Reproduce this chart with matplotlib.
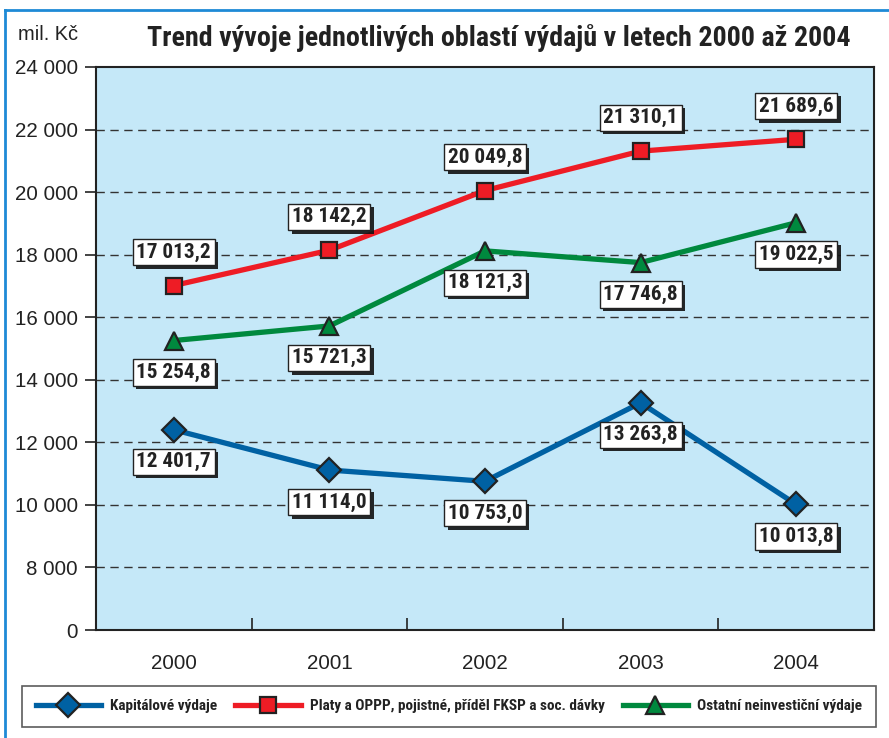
import matplotlib
matplotlib.use("Agg")
import matplotlib.pyplot as plt
import matplotlib.patheffects as pe
from matplotlib.lines import Line2D

years = ["2000", "2001", "2002", "2003", "2004"]
kapitalove = [12401.7, 11114.0, 10753.0, 13263.8, 10013.8]
platy = [17013.2, 18142.2, 20049.8, 21310.1, 21689.6]
ostatni = [15254.8, 15721.3, 18121.3, 17746.8, 19022.5]
series_names = ["Kapitálové výdaje",
                "Platy a OPPP, pojistné, příděl FKSP a soc. dávky",
                "Ostatní neinvestiční výdaje"]
ytick_values = [6000, 8000, 10000, 12000, 14000, 16000, 18000, 20000, 22000, 24000]
ytick_labels = ["0", "8 000", "10 000", "12 000", "14 000", "16 000",
                "18 000", "20 000", "22 000", "24 000"]


def fmt(v):
    return f"{v:,.1f}".replace(",", " ").replace(".", ",")


COND = ["Roboto Condensed", "DejaVu Sans"]
REG = ["Liberation Sans", "DejaVu Sans"]

fig = plt.figure(figsize=(8.89, 7.38), dpi=100)
W, H = 889, 738
renderer = fig.canvas.get_renderer()


def fit_size(text, target_px, **kw):
    t = fig.text(0, 0, text, fontsize=10, **kw)
    w = t.get_window_extent(renderer).width
    t.remove()
    return 10 * target_px / w


ax = fig.add_axes([96 / W, 1 - 630 / H, (874 - 96) / W, (630 - 67) / H])
ax.set_facecolor("#c5e8f8")

x = list(range(len(years)))
blue, red, green = "#0061a3", "#ee1c25", "#00893e"
edge = "#222222"
styles = [
    dict(color=blue, marker="D", ms=12.5),
    dict(color=red, marker="s", ms=11.5),
    dict(color=green, marker="^", ms=13),
]
for vals, st in zip([kapitalove, platy, ostatni], styles):
    ax.plot(x, vals, color=st["color"], lw=3.8, marker=st["marker"], ms=st["ms"],
            mfc=st["color"], mec=edge, mew=1.6, zorder=4, solid_joinstyle="round")

lab_fs = fit_size("17 013,2", 75, family=COND, fontweight="bold")


def label(xi, v, dy):
    t = ax.annotate(fmt(v), (xi, v), xytext=(0, dy), textcoords="offset points",
                    ha="center", va="center", fontsize=lab_fs, fontweight="bold",
                    family=COND, color="#222222", zorder=6,
                    bbox=dict(boxstyle="square,pad=0.17", fc="white", ec="#222222", lw=1.0))
    t.get_bbox_patch().set_path_effects([
        pe.SimplePatchShadow(offset=(2.5, -2.5), shadow_rgbFace="#111111", alpha=0.9),
        pe.Normal()])


for i in x:
    label(i, platy[i], 24)
    label(i, ostatni[i], -23)
    label(i, kapitalove[i], -23)

tick_fs = fit_size("24 000", 63, family=REG)
ax.set_xlim(-0.5, len(years) - 0.5)
ax.set_ylim(6000, 24000)
ax.set_yticks(ytick_values)
ax.set_yticklabels(ytick_labels, family=REG, fontsize=tick_fs, color="#222222")
ax.set_xticks(x)
ax.set_xticklabels(years, family=REG, fontsize=tick_fs, color="#222222")
ax.set_xticks([i + 0.5 for i in x[:-1]], minor=True)
ax.tick_params(axis="x", which="major", length=0, pad=17)
ax.tick_params(axis="x", which="minor", length=9, direction="in", width=1.2, color="#222222")
ax.tick_params(axis="y", length=8, width=1.2, color="#222222", pad=5)
for s in ax.spines.values():
    s.set_linewidth(1.5)
    s.set_color("#222222")
for yv in ytick_values[1:-1]:
    ax.axhline(yv, color="#333333", lw=1.0, ls=(0, (6, 4)), zorder=1)

fig.text(18 / W, 1 - 35 / H, "mil. Kč", family=REG, fontsize=fit_size("mil. Kč", 60, family=REG),
         color="#222222", va="center", ha="left")
title = "Trend vývoje jednotlivých oblastí výdajů v letech 2000 až 2004"
fig.text(499 / W, 1 - 38 / H, title, family=COND,
         fontsize=fit_size(title, 702, family=COND, fontweight="bold"),
         fontweight="bold", color="#222222", va="center", ha="center")

# outer frame lines
fig.add_artist(Line2D([5 / W, 1], [1 - 10 / H, 1 - 10 / H], color="#1e8ad6", lw=2))
fig.add_artist(Line2D([5 / W, 5 / W], [0, 1 - 10 / H], color="#1e8ad6", lw=2))

handles = [Line2D([], [], color=st["color"], lw=3.8, marker=st["marker"], ms=st["ms"],
                  mfc=st["color"], mec=edge, mew=1.6) for st in styles]
leg_fs = fit_size(series_names[1], 295, family=COND, fontweight="bold")
leg = fig.legend(handles, series_names, ncol=3, loc="lower left",
                 bbox_to_anchor=(22 / W, 1 - 727 / H, (876 - 22) / W, 41 / H),
                 mode="expand", frameon=True, fancybox=False, edgecolor="#333333",
                 prop=dict(family=COND, weight="bold", size=leg_fs),
                 handlelength=4.3, columnspacing=1.0, handletextpad=0.6,
                 borderpad=0.9, borderaxespad=0)
leg.get_frame().set_linewidth(1.2)
for t in leg.get_texts():
    t.set_color("#222222")

fig.savefig("out.png", dpi=100)
